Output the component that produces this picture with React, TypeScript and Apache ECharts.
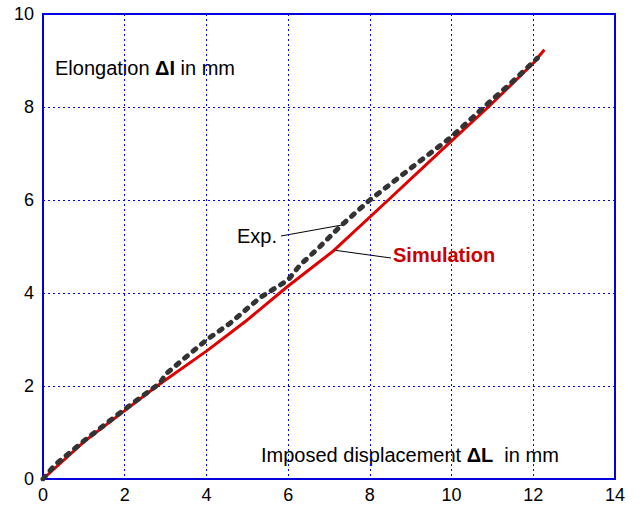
import React, { useEffect, useRef } from "react";
import * as echarts from "echarts";

const simX = [0, 1, 2, 2.79, 4, 5, 6, 7.1, 8.45, 10, 10.9, 12, 12.27];
const simY = [0, 0.8, 1.47, 2, 2.75, 3.42, 4.15, 4.9, 6, 7.27, 8, 8.94, 9.23];
const expX = [0, 0.29, 1, 2, 2.86, 3.02, 4, 4.58, 5.31, 6, 6.29, 6.78, 7.27, 8, 9.07, 10, 10.87, 11.4, 12.1];
const expY = [0, 0.3, 0.82, 1.5, 2.06, 2.27, 2.99, 3.35, 3.9, 4.28, 4.6, 5.0, 5.43, 6, 6.73, 7.36, 8.06, 8.47, 9.05];
const xTicks = [0, 2, 4, 6, 8, 10, 12, 14];
const yTicks = [0, 2, 4, 6, 8, 10];

const FONT = "Liberation Sans, Arial, Helvetica, sans-serif";
const BLUE = "#0000dd";

export default function App() {
  const ref = useRef<HTMLDivElement>(null);
  useEffect(() => {
    if (!ref.current) return;
    const chart = echarts.init(ref.current, undefined, { renderer: "svg" });
    const sim = simX.map((x, i) => [x, simY[i]]);
    const exp = expX.map((x, i) => [x, expY[i]]);
    chart.setOption({
      animation: false,
      backgroundColor: "#ffffff",
      grid: {
        left: 43,
        top: 14,
        right: 26,
        bottom: 29,
        show: true,
        borderColor: BLUE,
        borderWidth: 2,
      },
      xAxis: {
        type: "value",
        min: xTicks[0],
        max: xTicks[xTicks.length - 1],
        interval: 2,
        axisLine: { show: true, lineStyle: { color: BLUE, width: 2 } },
        axisTick: { show: false },
        axisLabel: { color: "#000", fontSize: 18, fontFamily: FONT, margin: 7 },
        splitLine: { show: true, lineStyle: { color: "#0000ff", type: [2, 3], width: 1 } },
      },
      yAxis: {
        type: "value",
        min: yTicks[0],
        max: yTicks[yTicks.length - 1],
        interval: 2,
        axisLine: { show: true, lineStyle: { color: BLUE, width: 2 } },
        axisTick: { show: false },
        axisLabel: { color: "#000", fontSize: 18, fontFamily: FONT, margin: 9 },
        splitLine: { show: true, lineStyle: { color: "#0000ff", type: [2, 3], width: 1 } },
      },
      series: [
        {
          name: "Simulation",
          type: "line",
          data: sim,
          showSymbol: false,
          symbol: "none",
          lineStyle: { color: "#e00000", width: 3 },
          z: 2,
        },
        {
          name: "Exp.",
          type: "line",
          data: exp,
          showSymbol: false,
          symbol: "none",
          lineStyle: { color: "#333333", width: 5, type: [3.5, 7.5], cap: "round" },
          z: 3,
        },
      ],
      graphic: [
        {
          type: "text",
          x: 55,
          y: 68,
          style: {
            text: "{a|Elongation }{b|ΔI}{a| in mm}",
            verticalAlign: "middle",
            rich: {
              a: { fontSize: 20, fontFamily: FONT, fill: "#000" },
              b: { fontSize: 20, fontFamily: FONT, fontWeight: "bold", fill: "#000" },
            },
          },
        },
        {
          type: "text",
          x: 261,
          y: 455,
          style: {
            text: "{a|Imposed displacement }{b|ΔL}{a|  in mm}",
            verticalAlign: "middle",
            rich: {
              a: { fontSize: 20, fontFamily: FONT, fill: "#000" },
              b: { fontSize: 20, fontFamily: FONT, fontWeight: "bold", fill: "#000" },
            },
          },
        },
        {
          type: "text",
          x: 237,
          y: 236,
          style: { text: "Exp.", fontSize: 20, fontFamily: FONT, fill: "#000", verticalAlign: "middle" },
        },
        {
          type: "line",
          shape: { x1: 281, y1: 236, x2: 342, y2: 225 },
          style: { stroke: "#000", lineWidth: 1 },
        },
        {
          type: "text",
          x: 393,
          y: 255,
          style: {
            text: "Simulation",
            fontSize: 20,
            fontWeight: "bold",
            fontFamily: FONT,
            fill: "#cc0000",
            verticalAlign: "middle",
          },
        },
        {
          type: "line",
          shape: { x1: 333, y1: 250, x2: 391, y2: 258 },
          style: { stroke: "#000", lineWidth: 1 },
        },
      ],
    });
    return () => chart.dispose();
  }, []);
  return (
    <div
      ref={ref}
      style={{ position: "fixed", left: 0, top: 0, width: 641, height: 508 }}
    />
  );
}
